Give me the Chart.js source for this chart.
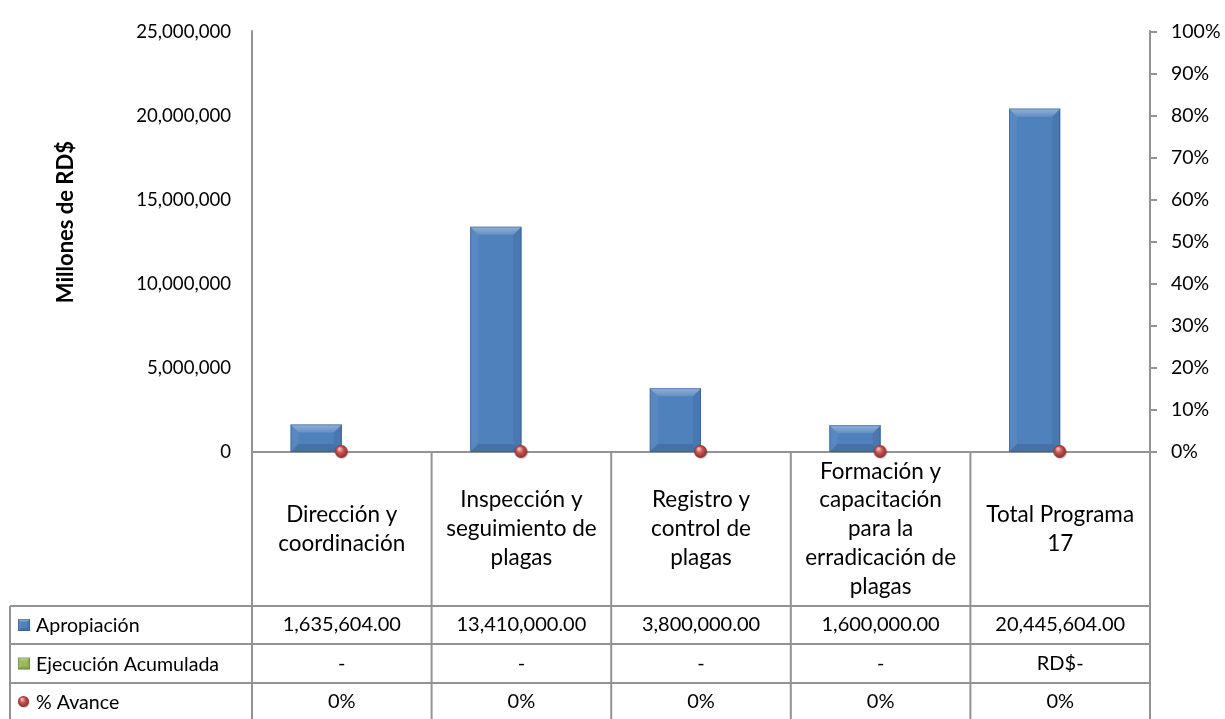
<!DOCTYPE html>
<html>
<head>
<meta charset="utf-8">
<script src="https://cdn.jsdelivr.net/npm/chart.js@4.4.1/dist/chart.umd.min.js"></script>
<style>
  html, body { margin: 0; padding: 0; background: #ffffff; }
  #wrap { width: 1225px; height: 719px; position: relative; }
</style>
</head>
<body>
<div id="wrap"><canvas id="c"></canvas></div>
<script>
// ---- Data ----
const categories = [
  ['Dirección y', 'coordinación'],
  ['Inspección y', 'seguimiento de', 'plagas'],
  ['Registro y', 'control de', 'plagas'],
  ['Formación y', 'capacitación', 'para la', 'erradicación de', 'plagas'],
  ['Total Programa', '17']
];
const apropiacion = [1635604, 13410000, 3800000, 1600000, 20445604];
const ejecucion = [0, 0, 0, 0, 0];
const avance = [0, 0, 0, 0, 0];
const ejecucionText = ['-', '-', '-', '-', 'RD$-'];
const seriesNames = ['Apropiación', 'Ejecución Acumulada', '% Avance'];
const leftTicks = [0, 5000000, 10000000, 15000000, 20000000, 25000000];
const rightTicks = [0, 0.1, 0.2, 0.3, 0.4, 0.5, 0.6, 0.7, 0.8, 0.9, 1.0];
const yTitle = 'Millones de RD$';

// ---- Styles ----
const FONT = 'Lato, "Open Sans", sans-serif';
const LINE = '#939393';
const BLUE = '#4F81BD';
const GREEN = '#9BBB59';
const TABLE_ROWS = [606, 644, 683, 721];
const TABLE_LEFT = 10;

function fmtNum(v) {
  return v.toLocaleString('en-US');
}
function fmtMoney(v) {
  return v.toLocaleString('en-US', { minimumFractionDigits: 2, maximumFractionDigits: 2 });
}
function fmtPct(v) {
  return Math.round(v * 100) + '%';
}

function makeSphere(r) {
  const s = r * 2 + 3;
  const cv = document.createElement('canvas');
  cv.width = s; cv.height = s;
  const g = cv.getContext('2d');
  const cx = s / 2 - 0.5, cy = s / 2 - 0.5;
  g.fillStyle = 'rgba(0,0,0,0.15)';
  g.beginPath(); g.arc(cx + 0.8, cy + 1.2, r, 0, Math.PI * 2); g.fill();
  const grad = g.createRadialGradient(cx - r * 0.3, cy - r * 0.45, r * 0.1, cx, cy, r);
  grad.addColorStop(0, '#F6BDBB');
  grad.addColorStop(0.45, '#C9524E');
  grad.addColorStop(1, '#82302D');
  g.fillStyle = grad;
  g.beginPath(); g.arc(cx, cy, r, 0, Math.PI * 2); g.fill();
  return cv;
}
const sphere = makeSphere(6.5);
const sphereSmall = makeSphere(5.5);

function drawBevelRect(ctx, left, top, right, bottom, color, bmax) {
  const w = right - left, h = bottom - top;
  if (h <= 0) return;
  const b = Math.min(bmax, h / 2.5, w / 4);
  ctx.save();
  ctx.fillStyle = color;
  ctx.fillRect(left, top, w, h);
  const poly = (pts, fill) => {
    ctx.beginPath();
    ctx.moveTo(pts[0][0], pts[0][1]);
    for (let i = 1; i < pts.length; i++) ctx.lineTo(pts[i][0], pts[i][1]);
    ctx.closePath();
    ctx.fillStyle = fill;
    ctx.fill();
  };
  const tg = ctx.createLinearGradient(0, top, 0, top + b);
  tg.addColorStop(0, 'rgba(255,255,255,0.38)');
  tg.addColorStop(1, 'rgba(255,255,255,0.12)');
  poly([[left, top], [right, top], [right - b, top + b], [left + b, top + b]], tg);
  poly([[left, top], [left + b, top + b], [left + b, bottom - b], [left, bottom]], 'rgba(255,255,255,0.06)');
  poly([[right, top], [right - b, top + b], [right - b, bottom - b], [right, bottom]], 'rgba(0,0,0,0.07)');
  poly([[left, bottom], [left + b, bottom - b], [right - b, bottom - b], [right, bottom]], 'rgba(0,0,0,0.12)');
  ctx.strokeStyle = 'rgba(30,60,100,0.28)';
  ctx.lineWidth = 1;
  ctx.strokeRect(left + 0.5, top + 0.5, w - 1, h - 1);
  ctx.restore();
}

const tablePlugin = {
  id: 'tablePlugin',
  beforeDatasetsDraw(chart) {
    const ctx = chart.ctx;
    const x = chart.scales.x;
    const y = chart.scales.y;
    const area = chart.chartArea;
    const n = categories.length;
    const cw = (x.right - x.left) / n;
    const base = y.getPixelForValue(0);
    const bounds = [];
    for (let i = 0; i <= n; i++) bounds.push(x.getPixelForValue(0) - cw / 2 + i * cw);

    ctx.save();
    ctx.strokeStyle = LINE;
    ctx.lineWidth = 2;
    ctx.beginPath();
    ctx.moveTo(bounds[0], base); ctx.lineTo(bounds[n] + 7, base);
    ctx.moveTo(bounds[0], area.top - 2); ctx.lineTo(bounds[0], TABLE_ROWS[3]);
    ctx.moveTo(bounds[n], area.top - 2); ctx.lineTo(bounds[n], TABLE_ROWS[3]);
    for (let i = 1; i < n; i++) { ctx.moveTo(bounds[i], base); ctx.lineTo(bounds[i], TABLE_ROWS[3]); }
    ctx.moveTo(TABLE_LEFT, TABLE_ROWS[0]); ctx.lineTo(TABLE_LEFT, TABLE_ROWS[3]);
    for (let r = 0; r < 3; r++) { ctx.moveTo(TABLE_LEFT, TABLE_ROWS[r]); ctx.lineTo(bounds[n], TABLE_ROWS[r]); }
    ctx.stroke();

    // Y title
    ctx.save();
    ctx.translate(66, (area.top + base) / 2 - 20);
    ctx.rotate(-Math.PI / 2);
    ctx.fillStyle = '#000';
    ctx.font = 'bold 22px ' + FONT;
    ctx.textAlign = 'center';
    ctx.textBaseline = 'middle';
    ctx.fillText(yTitle, 0, 0);
    ctx.restore();

    // header category text
    ctx.fillStyle = '#000';
    ctx.textAlign = 'center';
    ctx.textBaseline = 'middle';
    ctx.font = '22.5px ' + FONT;
    const lh = 28.8;
    const hc = (base + TABLE_ROWS[0]) / 2;
    categories.forEach((lines, i) => {
      const cx = x.getPixelForValue(i);
      const y0 = hc - (lines.length - 1) * lh / 2;
      lines.forEach((t, k) => ctx.fillText(t, cx, y0 + k * lh));
    });

    // row values
    ctx.font = '20px ' + FONT;
    const rowVals = [apropiacion.map(fmtMoney), ejecucionText, avance.map(fmtPct)];
    rowVals.forEach((vals, r) => {
      const cy = (TABLE_ROWS[r] + TABLE_ROWS[r + 1]) / 2;
      vals.forEach((t, i) => ctx.fillText(t, x.getPixelForValue(i), cy));
    });

    // row labels with legend keys
    ctx.textAlign = 'left';
    ctx.font = '19.6px ' + FONT;
    seriesNames.forEach((name, r) => {
      const cy = (TABLE_ROWS[r] + TABLE_ROWS[r + 1]) / 2;
      if (r === 0) drawBevelRect(ctx, 18, cy - 6, 30, cy + 6, BLUE, 3);
      if (r === 1) drawBevelRect(ctx, 18, cy - 6, 30, cy + 6, GREEN, 3);
      if (r === 2) ctx.drawImage(sphereSmall, 24 - sphereSmall.width / 2, cy - sphereSmall.height / 2);
      ctx.fillStyle = '#000';
      ctx.fillText(name, 36, cy + 1);
    });
    ctx.restore();
  },
  afterDatasetDraw(chart, args) {
    if (args.index !== 0) return;
    const ctx = chart.ctx;
    args.meta.data.forEach(el => {
      const p = el.getProps(['x', 'y', 'base', 'width'], true);
      drawBevelRect(ctx, p.x - p.width / 2, p.y, p.x + p.width / 2, p.base, BLUE, 8);
    });
  }
};

new Chart(document.getElementById('c'), {
  data: {
    labels: categories.map(l => l.join(' ')),
    datasets: [
      { type: 'bar', label: seriesNames[0], data: apropiacion, backgroundColor: BLUE, borderWidth: 0, yAxisID: 'y', order: 2 },
      { type: 'bar', label: seriesNames[1], data: ejecucion, backgroundColor: GREEN, borderWidth: 0, yAxisID: 'y', order: 2 },
      { type: 'line', label: seriesNames[2], data: avance, yAxisID: 'y1', showLine: false, clip: false,
        pointStyle: sphere, pointRadius: 6.5, pointHoverRadius: 6.5, order: 0 }
    ]
  },
  options: {
    responsive: true,
    maintainAspectRatio: false,
    animation: false,
    events: [],
    layout: { padding: { top: 20, bottom: 267, left: 0, right: 0 } },
    datasets: { bar: { categoryPercentage: 0.57, barPercentage: 1.0 } },
    plugins: { legend: { display: false }, tooltip: { enabled: false } },
    scales: {
      x: { display: false, offset: true },
      y: {
        position: 'left', min: 0, max: 25000000,
        afterBuildTicks: s => { s.ticks = leftTicks.map(v => ({ value: v })); },
        afterFit: s => { s.width = 252; },
        ticks: { callback: v => fmtNum(v), color: '#000', font: { family: FONT, size: 18.6 }, padding: 21 },
        grid: { display: false, drawTicks: false },
        border: { display: false }
      },
      y1: {
        position: 'right', min: 0, max: 1,
        afterBuildTicks: s => { s.ticks = rightTicks.map(v => ({ value: v })); },
        afterFit: s => { s.width = 75; },
        ticks: { callback: v => fmtPct(v), color: '#000', font: { family: FONT, size: 19.5 }, padding: 14 },
        grid: { drawOnChartArea: false, drawTicks: true, tickLength: 7, color: LINE, lineWidth: 2 },
        border: { display: false }
      }
    }
  },
  plugins: [tablePlugin]
});
</script>
</body>
</html>
